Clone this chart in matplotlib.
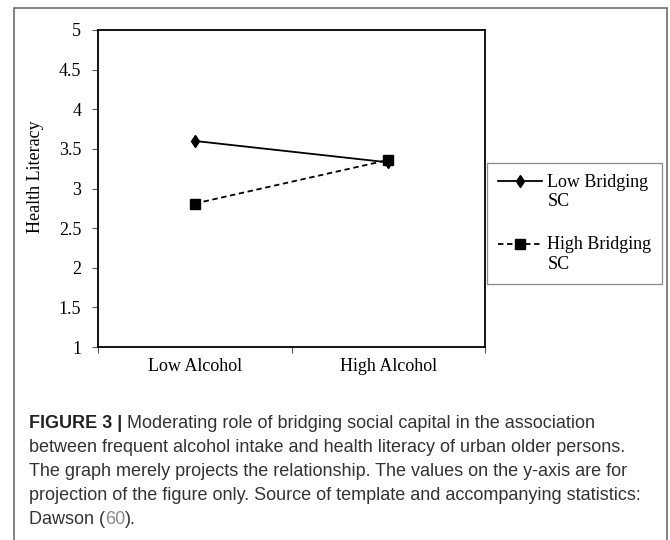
import matplotlib
matplotlib.use("Agg")
import matplotlib.pyplot as plt
import numpy as np
from matplotlib.patches import Rectangle
from matplotlib.legend_handler import HandlerLine2D

categories = ["Low Alcohol", "High Alcohol"]
low_bridging = [3.60, 3.33]
high_bridging = [2.81, 3.36]
series_names = ["Low Bridging\nSC", "High Bridging\nSC"]
yticks = [1, 1.5, 2, 2.5, 3, 3.5, 4, 4.5, 5]
ytick_labels = ["1", "1.5", "2", "2.5", "3", "3.5", "4", "4.5", "5"]

caption_first = "Moderating role of bridging social capital in the association"
caption_lines = [
    "between frequent alcohol intake and health literacy of urban older persons.",
    "The graph merely projects the relationship. The values on the y-axis are for",
    "projection of the figure only. Source of template and accompanying statistics:",
]

W, H = 670, 540
fig = plt.figure(figsize=(W / 100, H / 100), dpi=100)
SERIF = ["Liberation Serif", "DejaVu Serif"]
SANS = ["Liberation Sans", "DejaVu Sans"]


def fx(px):
    return px / W


def fy(py):
    return 1 - py / H


# outer frame
fig.patches.append(Rectangle((fx(14), fy(545)), fx(667) - fx(14), fy(8) - fy(545),
                             transform=fig.transFigure, fill=False,
                             edgecolor="#6e6e6e", linewidth=1.2))

ax = fig.add_axes([fx(98), fy(347), fx(485) - fx(98), fy(30) - fy(347)])
x = np.arange(len(categories)) + 0.5
ax.plot(x, low_bridging, color="black", linewidth=1.3, marker="d",
        markersize=6.2, label=series_names[0])
ax.plot(x, high_bridging, color="black", linewidth=1.3, linestyle=(0, (3, 2)),
        marker="s", markersize=6.5, label=series_names[1])

ax.set_xlim(0, len(categories))
ax.set_ylim(1, 5)
ax.set_yticks(yticks)
ax.set_yticklabels(ytick_labels, fontfamily=SERIF, fontsize=13)
ax.set_xticks(np.arange(len(categories) + 1))
ax.set_xticklabels([])
ax.set_xticks(x, minor=True)
ax.set_xticklabels(categories, minor=True, fontfamily=SERIF, fontsize=13)
ax.tick_params(axis="x", which="minor", length=0, pad=8)
ax.tick_params(axis="x", which="major", length=4, width=0.8, color="#555555")
ax.tick_params(axis="y", length=4, width=0.8, color="#555555", pad=8)
for s in ax.spines.values():
    s.set_linewidth(1.3)
    s.set_color("black")

fig.text(fx(36), fy(177), "Health Literacy", rotation=90, ha="center", va="center",
         fontfamily=SERIF, fontsize=13)


class TopLineHandler(HandlerLine2D):
    def __init__(self, dy, **kw):
        super().__init__(**kw)
        self.dy = dy

    def create_artists(self, legend, orig_handle, xdescent, ydescent, width,
                       height, fontsize, trans):
        arts = super().create_artists(legend, orig_handle, xdescent, ydescent,
                                      width, height, fontsize, trans)
        for a in arts:
            a.set_ydata(np.asarray(a.get_ydata(), dtype=float) + self.dy * fontsize)
        return arts


handles, labels = ax.get_legend_handles_labels()
h = TopLineHandler(0.6, numpoints=1)
leg = fig.legend(handles, labels, loc="upper left",
                 bbox_to_anchor=(fx(487), fy(163)), bbox_transform=fig.transFigure,
                 borderaxespad=0,
                 prop={"family": SERIF, "size": 13}, frameon=True, fancybox=False,
                 edgecolor="#8a8a8a", framealpha=1, handlelength=2.45,
                 handletextpad=0.3, labelspacing=1.43, borderpad=0.6,
                 handler_map={handles[0]: h, handles[1]: h})
leg.get_frame().set_linewidth(0.9)

# caption
cap_color = "#333333"
cap_fs = 13
b = fig.text(fx(29), fy(428), "FIGURE 3 | ", fontfamily=SANS, fontsize=cap_fs,
             fontweight="bold", color="#222222", va="baseline")
ax.annotate(caption_first, xy=(1, 0), xycoords=b, va="bottom", ha="left",
            fontfamily=SANS, fontsize=cap_fs, color=cap_color, annotation_clip=False)
for i, line in enumerate(caption_lines):
    fig.text(fx(29), fy(452 + 24 * i), line, fontfamily=SANS, fontsize=cap_fs,
             color=cap_color, va="baseline")
d = fig.text(fx(29), fy(524), "Dawson (", fontfamily=SANS, fontsize=cap_fs,
             color=cap_color, va="baseline")
n = ax.annotate("60", xy=(1, 0), xycoords=d, va="bottom", ha="left",
                fontfamily=SANS, fontsize=cap_fs, color="#8c8c8c", annotation_clip=False)
ax.annotate(").", xy=(1, 0), xycoords=n, va="bottom", ha="left",
            fontfamily=SANS, fontsize=cap_fs, color=cap_color, annotation_clip=False)

fig.savefig("out.png", dpi=100)
